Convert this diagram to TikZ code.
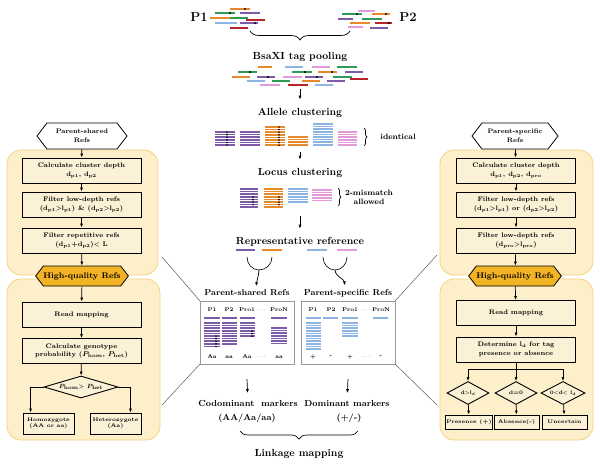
\documentclass[tikz,border=0pt]{standalone}
\usepackage{tikz}
\usetikzlibrary{arrows.meta,positioning,shapes.geometric,shapes.symbols,decorations.pathreplacing}

\definecolor{rpurple}{HTML}{7D5BA6}
\definecolor{rorange}{HTML}{E88A2C}
\definecolor{rgreen}{HTML}{2E9B5A}
\definecolor{rsky}{HTML}{8EB4E3}
\definecolor{rpink}{HTML}{E29BD8}
\definecolor{rred}{HTML}{B8232B}
\definecolor{panelfill}{HTML}{FCEFC9}
\definecolor{panelline}{HTML}{F4D27E}
\definecolor{boxfill}{HTML}{FBF1D6}
\definecolor{hqgold}{HTML}{F2B324}

\newcommand{\stagefont}{\fontsize{10.3}{12}\selectfont\bfseries}
\newcommand{\reffont}{\fontsize{8.6}{10}\selectfont\bfseries}
\newcommand{\markfont}{\fontsize{8.8}{10}\selectfont\bfseries}
\newcommand{\notefont}{\fontsize{7.8}{9}\selectfont\bfseries}
\newcommand{\boxfont}{\fontsize{6.6}{8.6}\selectfont\bfseries}
\newcommand{\diafont}{\fontsize{6}{7}\selectfont\bfseries}
\newcommand{\tinyfont}{\fontsize{5.2}{6.4}\selectfont\bfseries}
\newcommand{\colfont}{\fontsize{5.5}{6.5}\selectfont\bfseries}
\newcommand{\sub}[1]{\textsubscript{#1}}

% one cluster of reads: colour, x1, x2, top y, number of reads
\newcommand{\clust}[5]{\foreach \k in {1,...,#5}{\draw[clline,#1] (#2,{#4+(\k-1)*2.6}) -- (#3,{#4+(\k-1)*2.6});}}
% column of SNP marks: x, top y, number
\newcommand{\dotcol}[3]{\foreach \k in {1,...,#3}{\fill ({#1},{#2+(\k-1)*2.6}) circle (0.9pt);}}

\begin{document}
\begin{tikzpicture}[x=1pt, y=-1pt, >={Latex[length=4pt,width=3pt]}, thick,
  read/.style = {line width=1.7pt},
  clline/.style = {line width=1.5pt},
  panel/.style = {draw=panelline, fill=panelfill, rounded corners=14pt, line width=0.8pt},
  procbox/.style = {draw, fill=boxfill, line width=0.9pt, minimum width=119pt, minimum height=25pt, align=center, font=\boxfont, inner sep=1pt},
  smallbox/.style = {draw, fill=boxfill, line width=0.9pt, minimum height=14pt, align=center, font=\tinyfont, inner sep=1pt},
  hexa/.style = {draw, signal, signal to=east and west, signal pointer angle=105, line width=0.8pt, align=center, inner sep=0pt},
  test/.style = {draw, diamond, fill=boxfill, line width=0.9pt, inner sep=0pt, align=center},
  refbox/.style = {draw=gray!80, fill=white, line width=0.8pt},
  zoomline/.style = {draw=gray!70!black, line width=0.5pt},
  link/.style = {->, line width=0.7pt},
  stagelink/.style = {->, line width=0.7pt, shorten >=5pt}]

\useasboundingbox (0,0) rectangle (600,466);

% panels
\draw[panel] (7,150) rectangle (158,275);
\draw[panel] (7,279) rectangle (160,440);
\draw[panel] (440,150) rectangle (593,275);
\draw[panel] (440,279) rectangle (593,440);

% Parent pools
\node[font=\fontsize{13}{15}\selectfont\bfseries] (p1) at (199,17) {P1};
\node[font=\fontsize{13}{15}\selectfont\bfseries] (p2) at (408,17) {P2};
\foreach \c/\xa/\xb/\y in {rorange/230/250/9, rgreen/215/235/13, rpurple/240/260/13, rorange/210/230/18,
    rgreen/230/248/18, rred/246/265/20, rsky/215/237/23, rpurple/240/258/23, rred/230/248/28,
    rpink/358/375/11, rgreen/342/362/14, rorange/372/390/14, rpurple/338/353/19, rgreen/362/382/19,
    rorange/350/370/23, rred/375/392/23, rpink/348/363/27, rpurple/370/388/28}
  \draw[read,\c] (\xa,\y) -- (\xb,\y);
\foreach \x/\y in {245/9, 230/13, 255/23, 357/14, 386/14, 389/23}
  \fill (\x,\y) circle (1.1pt);

\draw[line width=0.7pt, decorate, decoration={brace, mirror, amplitude=9pt}] (250,31) -- (350,31);
\node[font=\stagefont] (pool) at (300,57) {BsaXI tag pooling};

% pooled tags
\foreach \c/\xa/\xb/\y in {rorange/258/272/67, rsky/285/303/67, rpink/312/330/67, rgreen/337/357/67,
    rgreen/238/257/72, rgreen/292/312/72, rorange/318/337/72, rpurple/345/363/72,
    rorange/232/250/77, rpurple/257/275/77, rpink/283/302/77, rpurple/305/323/77, rgreen/333/352/77, rred/350/368/79,
    rsky/247/265/81, rgreen/272/290/81, rorange/302/320/81, rpurple/327/345/81,
    rpink/260/280/85, rred/288/308/85, rsky/315/333/85}
  \draw[read,\c] (\xa,\y) -- (\xb,\y);
\foreach \x/\y in {250/72, 305/72, 332/72, 268/77, 317/77}
  \fill (\x,\y) circle (1.1pt);

\coordinate (poolend) at (300,89);
\node[font=\stagefont] (allele) at (300,113) {Allele clustering};
\draw[stagelink] (poolend) -- (allele);

% allele clusters
\clust{rpurple}{215}{235}{132}{6} \dotcol{227}{132}{6}
\clust{rpurple}{240}{260}{132}{6}
\clust{rorange}{265}{285}{127}{8} \dotcol{279}{127}{8}
\clust{rorange}{288}{308}{137}{4}
\clust{rsky}{313}{333}{124}{9}
\clust{rpink}{338}{357}{132}{6}
\draw[line width=0.7pt, decorate, decoration={brace, amplitude=3pt}] (364,128) -- (364,146);
\node[font=\notefont] (ident) at (398,137) {identical};

\coordinate (alleleend) at (300,152);
\node[font=\stagefont] (locus) at (300,173) {Locus clustering};
\draw[stagelink] (alleleend) -- (locus);

% locus clusters
\clust{rpurple}{240}{258}{189}{8} \dotcol{253}{197}{4}
\clust{rorange}{264}{283}{189}{8} \dotcol{279}{197}{4}
\clust{rsky}{288}{308}{189}{6}
\clust{rpink}{312}{332}{190}{5}
\draw[line width=0.7pt, decorate, decoration={brace, amplitude=3pt}] (338,188) -- (338,206);
\node[font=\notefont, align=center] (mism) at (369,197) {2-mismatch\\allowed};

\coordinate (locusend) at (300,216);
\node[font=\stagefont] (repr) at (300,242) {Representative reference};
\draw[stagelink] (locusend) -- (repr);

\draw[read,rpurple] (236,250) -- (255,250);
\draw[read,rorange] (262,250) -- (282,250);
\draw[read,rsky] (307,250) -- (327,250);
\draw[read,rpink] (337,250) -- (357,250);

% reference sets
\node[font=\reffont] (shtitle) at (247,293) {Parent-shared Refs};
\node[font=\reffont] (sptitle) at (348,293) {Parent-specific Refs};
\coordinate (sha) at (247,257);
\coordinate (shb) at (272,257);
\coordinate (shm) at (259,270);
\coordinate (spa) at (323,257);
\coordinate (spb) at (347,257);
\coordinate (spm) at (335,270);
\draw[line width=0.6pt] (sha) to[out=-90,in=180] (shm) to[out=0,in=-90] (shb);
\draw[link] (shm) to[out=-95,in=80] ([xshift=9pt]shtitle.north);
\draw[line width=0.6pt] (spa) to[out=-90,in=180] (spm) to[out=0,in=-90] (spb);
\draw[link] (spm) to[out=-85,in=100] ([xshift=-3pt]sptitle.north);

\draw[refbox] (200,301) rectangle (294,364);
\draw[refbox] (301,301) rectangle (395,364);
\coordinate (shnw) at (200,301);
\coordinate (shsw) at (200,364);
\coordinate (spne) at (395,301);
\coordinate (spse) at (395,364);

\foreach \t/\x in {P1/212, P2/229, Pro1/247, $\cdots$/261, ProN/279}
  \node[font=\colfont] at (\x,310) {\t};
\foreach \t/\x in {Aa/212, aa/229, Aa/247, $\cdots$/261, aa/279}
  \node[font=\colfont] at (\x,357) {\t};
\foreach \t/\x in {P1/313, P2/331, Pro1/350, $\cdots$/366, ProN/381}
  \node[font=\colfont] at (\x,310) {\t};
\foreach \t/\x in {+/313, -/331, +/350, $\cdots$/366, -/381}
  \node[font=\colfont] at (\x,357) {\t};

\clust{rpurple}{204}{220}{318}{1} \clust{rpurple}{222}{237}{318}{1}
\clust{rpurple}{240}{255}{318}{1} \clust{rpurple}{271}{287}{318}{1}
\clust{rpurple}{204}{220}{323}{10} \dotcol{216}{336}{5}
\clust{rpurple}{222}{237}{323}{9}
\clust{rpurple}{240}{255}{323}{6} \dotcol{252}{331}{3}
\clust{rpurple}{271}{287}{328}{7}
\clust{rsky}{306}{321}{318}{1} \clust{rsky}{323}{338}{318}{1}
\clust{rsky}{342}{358}{318}{1} \clust{rsky}{373}{388}{318}{1}
\clust{rsky}{306}{321}{323}{11}
\clust{rsky}{342}{358}{323}{6}

% markers
\node[font=\markfont] (codom) at (248,403) {Codominant\ \ markers};
\node[font=\markfont] (codomg) at (247,418) {(AA/Aa/aa)};
\node[font=\markfont] (dom) at (347,403) {Dominant markers};
\node[font=\markfont] (domg) at (349,418) {(+/-)};
\coordinate (shbot) at (247,379);
\coordinate (spbot) at (348,379);
\draw[stagelink, shorten >=3pt] (shbot) -- (codom);
\draw[stagelink, shorten >=3pt] (spbot) -- (dom);
\draw[line width=0.7pt, decorate, decoration={brace, mirror, amplitude=8pt}] (240,431) -- (358,431);
\node[font=\stagefont] (linkage) at (299,454) {Linkage mapping};

% zoom lines
\coordinate (lzu) at (162,257);
\coordinate (lzd) at (162,405);
\coordinate (rzu) at (437,255);
\coordinate (rzd) at (437,405);
\draw[zoomline] (shnw) -- (lzu);
\draw[zoomline] (shsw) -- (lzd);
\draw[zoomline] (spne) -- (rzu);
\draw[zoomline] (spse) -- (rzd);

% left panel: parent-shared refs
\node[hexa, fill=white, minimum width=90pt, minimum height=26pt, font=\boxfont] (lhex) at (82,136) {Parent-shared\\Refs};
\node[procbox] (lb1) at (81.5,170.5) {Calculate cluster depth\\d\sub{p1}, d\sub{p2}};
\node[procbox] (lb2) at (81.5,204.5) {Filter low-depth refs\\(d\sub{p1}>l\sub{p1}) \& (d\sub{p2}>l\sub{p2})};
\node[procbox] (lb3) at (81.5,240.5) {Filter repetitive refs\\(d\sub{p1}+d\sub{p2})< L};
\node[hexa, fill=hqgold, minimum width=90pt, minimum height=20pt, font=\fontsize{8.2}{10}\selectfont\bfseries] (lhq) at (82,276) {High-quality Refs};
\node[procbox] (lb4) at (81.5,314.5) {Read mapping};
\node[procbox] (lb5) at (81.5,351) {Calculate genotype\\probability ({\boldmath$P_{\mathbf{hom}}$}, {\boldmath$P_{\mathbf{het}}$})};
\node[test, aspect=3.4, minimum width=74pt, minimum height=22pt, font=\diafont] (ldia) at (81,387) {{\boldmath$P_{\mathbf{hom}}$}> {\boldmath$P_{\mathbf{het}}$}};
\node[smallbox, minimum width=51pt, minimum height=21pt] (lhomo) at (48.5,423.5) {Homozygote\\(AA or aa)};
\node[smallbox, minimum width=51pt, minimum height=21pt] (lhet) at (115.5,423.5) {Heterozygote\\(Aa)};

\path[link] (lhex) edge (lb1)
  (lb1) edge (lb2)
  (lb2) edge (lb3)
  (lb3) edge (lhq)
  (lhq) edge (lb4)
  (lb4) edge (lb5)
  (lb5) edge (ldia);
\draw[link] (ldia.west) -| ([xshift=8pt]lhomo.north west);
\draw[link] (ldia.east) -| ([xshift=-11pt]lhet.north east);

% right panel: parent-specific refs
\node[hexa, fill=white, minimum width=86pt, minimum height=26pt, font=\boxfont] (rhex) at (515,136) {Parent-specific\\Refs};
\node[procbox] (rb1) at (516,170.5) {Calculate cluster depth\\d\sub{p1}, d\sub{p2}, d\sub{pro}};
\node[procbox] (rb2) at (516,204.5) {Filter low-depth refs\\(d\sub{p1}>l\sub{p1}) or (d\sub{p2}>l\sub{p2})};
\node[procbox] (rb3) at (516,240.5) {Filter low-depth refs\\(d\sub{pro}>l\sub{pro})};
\node[hexa, fill=hqgold, minimum width=90pt, minimum height=20pt, font=\fontsize{8.2}{10}\selectfont\bfseries] (rhq) at (515,276) {High-quality Refs};
\node[procbox] (rb4) at (516,313) {Read mapping};
\node[procbox] (rb5) at (516,349.5) {Determine l\sub{d} for tag\\presence or absence};
\coordinate (rjoin) at (516,369);
\node[test, aspect=1.8, minimum width=42pt, minimum height=23pt, font=\tinyfont] (rdia1) at (468,393) {d>l\sub{d}};
\node[test, aspect=1.8, minimum width=42pt, minimum height=23pt, font=\tinyfont] (rdia2) at (516,393) {d=0};
\node[test, aspect=1.8, minimum width=44pt, minimum height=23pt, font=\tinyfont] (rdia3) at (563,393) {0<d< l\sub{d}};
\node[smallbox, minimum width=46pt] (rpres) at (469,422) {Presence (+)};
\node[smallbox, minimum width=45pt] (rabs) at (516.5,422) {Absence(-)};
\node[smallbox, minimum width=45pt] (runc) at (564.5,422) {Uncertain};

\path[link] (rhex) edge (rb1)
  (rb1) edge (rb2)
  (rb2) edge (rb3)
  (rb3) edge (rhq)
  (rhq) edge (rb4)
  (rb4) edge (rb5)
  (rjoin) edge (rdia2)
  (rdia1) edge (rpres)
  (rdia2) edge (rabs)
  (rdia3) edge (runc);
\draw[line width=0.7pt] (rb5) -- (rjoin);
\draw[link] (rjoin) -| (rdia1);
\draw[link] (rjoin) -| (rdia3);

\end{tikzpicture}
\end{document}
